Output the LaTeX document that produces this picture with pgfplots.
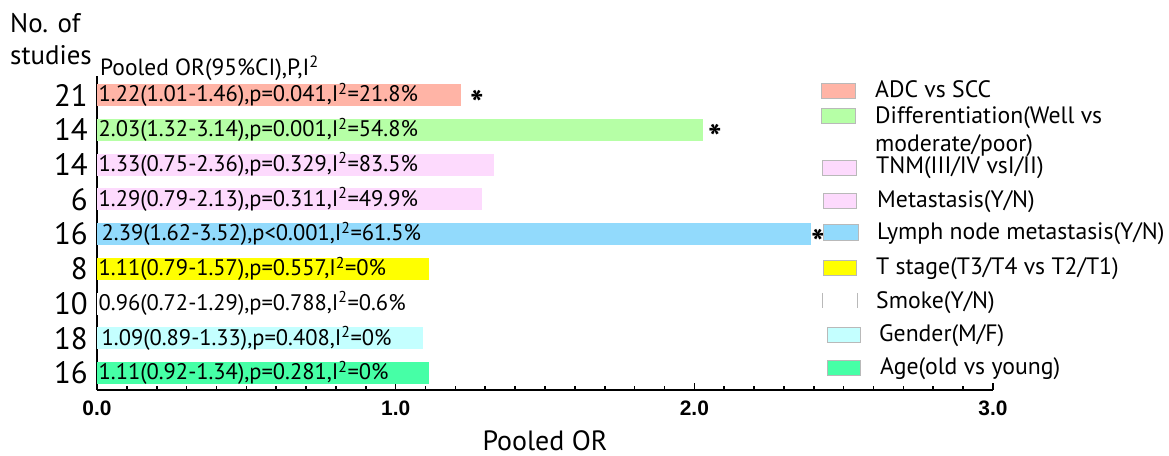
\documentclass[border=0pt]{standalone}
\usepackage{pgfplots}
\pgfplotsset{compat=1.18}
\usepackage{fontspec}
\setmainfont{PT Sans}
\newfontfamily\arialfont{Liberation Sans}
\definecolor{cADC}{RGB}{255,180,166}
\definecolor{cDIF}{RGB}{182,255,166}
\definecolor{cTNM}{RGB}{253,218,253}
\definecolor{cMET}{RGB}{253,218,253}
\definecolor{cLYM}{RGB}{146,218,252}
\definecolor{cTST}{RGB}{255,255,0}
\definecolor{cSMK}{RGB}{255,255,255}
\definecolor{cGEN}{RGB}{196,255,255}
\definecolor{cAGE}{RGB}{70,255,166}
\newcommand{\lab}{\fontsize{22.6}{24}\selectfont}
\newcommand{\leg}{\fontsize{23.8}{26}\selectfont}
\begin{document}
\begin{tikzpicture}[x=1bp,y=1bp]
\useasboundingbox (0,0) rectangle (1169,-456);
\node[anchor=base west, font=\fontsize{27}{30}\selectfont, inner sep=0pt] at (10,-33) {No. of};
\node[anchor=base west, font=\fontsize{27}{30}\selectfont, inner sep=0pt] at (10,-65) {studies};
\node[anchor=base west, font=\fontsize{23.5}{25}\selectfont, inner sep=0pt] at (100,-76) {Pooled OR(95\%CI),P,I\textsuperscript{2}};
\begin{axis}[
  at={(97bp,-390bp)}, anchor=south west,
  scale only axis, width=896bp, height=314bp,
  xmin=0, xmax=3, ymin=-0.489, ymax=8.547,
  xbar, bar shift=0pt, bar width=22bp,
  axis x line*=bottom, axis y line*=left,
  axis line style={-, line width=2.4bp, black},
  xtick={0,1,2,3}, xticklabels={0.0,1.0,2.0,3.0},
  minor x tick num=9,
  tick align=inside,
  major tick length=7bp, minor tick length=4bp,
  every tick/.style={black, line width=1.6bp},
  ytick={0,1,2,3,4,5,6,7,8},
  yticklabels={16,18,10,8,16,6,14,14,21},
  ytick style={draw=none},
  yticklabel style={font=\fontsize{31}{31}\selectfont, inner sep=0pt, xshift=-9bp},
  xticklabel style={font=\arialfont\fontsize{21}{21}\selectfont\bfseries, inner sep=0pt, yshift=-11bp},
  xlabel={Pooled OR},
  xlabel style={font=\fontsize{28}{28}\selectfont, inner sep=0pt, yshift=-14bp},
  clip=false,
]
\addplot[fill=cADC, draw=none] coordinates {(1.22,8)};
\addplot[fill=cDIF, draw=none] coordinates {(2.03,7)};
\addplot[fill=cTNM, draw=none] coordinates {(1.33,6)};
\addplot[fill=cMET, draw=none] coordinates {(1.29,5)};
\addplot[fill=cLYM, draw=none] coordinates {(2.39,4)};
\addplot[fill=cTST, draw=none] coordinates {(1.11,3)};
\addplot[fill=cSMK, draw=none] coordinates {(0.96,2)};
\addplot[fill=cGEN, draw=none] coordinates {(1.09,1)};
\addplot[fill=cAGE, draw=none] coordinates {(1.11,0)};
\node[anchor=west, font=\lab, inner sep=1.5bp] at (axis cs:0,8) {1.22(1.01-1.46),p=0.041,I\textsuperscript{2}=21.8\%};
\node[anchor=west, font=\lab, inner sep=1.5bp] at (axis cs:0,7) {2.03(1.32-3.14),p=0.001,I\textsuperscript{2}=54.8\%};
\node[anchor=west, font=\lab, inner sep=1.5bp] at (axis cs:0,6) {1.33(0.75-2.36),p=0.329,I\textsuperscript{2}=83.5\%};
\node[anchor=west, font=\lab, inner sep=1.5bp] at (axis cs:0,5) {1.29(0.79-2.13),p=0.311,I\textsuperscript{2}=49.9\%};
\node[anchor=west, font=\lab, inner sep=1.5bp] at (axis cs:0.01,4) {2.39(1.62-3.52),p<0.001,I\textsuperscript{2}=61.5\%};
\node[anchor=west, font=\lab, inner sep=1.5bp] at (axis cs:0,3) {1.11(0.79-1.57),p=0.557,I\textsuperscript{2}=0\%};
\node[anchor=west, font=\lab, inner sep=1.5bp] at (axis cs:0,2) {0.96(0.72-1.29),p=0.788,I\textsuperscript{2}=0.6\%};
\node[anchor=west, font=\lab, inner sep=1.5bp] at (axis cs:0.01,1) {1.09(0.89-1.33),p=0.408,I\textsuperscript{2}=0\%};
\node[anchor=west, font=\lab, inner sep=1.5bp] at (axis cs:0,0) {1.11(0.92-1.34),p=0.281,I\textsuperscript{2}=0\%};
\node[font=\fontsize{36}{36}\selectfont\bfseries, inner sep=0pt, yshift=-8bp] at (axis cs:1.272,8) {*};
\node[font=\fontsize{36}{36}\selectfont\bfseries, inner sep=0pt, yshift=-8bp] at (axis cs:2.069,7) {*};
\node[font=\fontsize{36}{36}\selectfont\bfseries, inner sep=0pt, yshift=-8bp] at (axis cs:2.414,4) {*};
\end{axis}
% legend
\begin{scope}[every node/.style={anchor=base west, inner sep=0pt, font=\leg}, sw/.style={draw=gray!55, line width=0.8bp}]
\filldraw[sw, fill=cADC] (821,-83) rectangle (855,-98);
\node at (875,-98) {ADC vs SCC};
\filldraw[sw, fill=cDIF] (821,-108) rectangle (855,-123);
\node at (875,-124) {Differentiation(Well vs};
\node at (875,-152) {moderate/poor)};
\filldraw[sw, fill=cTNM] (822,-160) rectangle (856,-175);
\node at (876,-174) {TNM(III/IV vsI/II)};
\filldraw[sw, fill=cMET] (823,-193) rectangle (856,-208);
\node at (877,-208) {Metastasis(Y/N)};
\filldraw[sw, fill=cLYM] (823,-224) rectangle (858,-240);
\node at (877,-240) {Lymph node metastasis(Y/N)};
\filldraw[sw, fill=cTST] (823,-260) rectangle (856,-275);
\node at (876,-275) {T stage(T3/T4 vs T2/T1)};
\draw[sw] (822,-293) -- (822,-308) (857,-293) -- (857,-308);
\node at (876,-309) {Smoke(Y/N)};
\filldraw[sw, fill=cGEN] (827,-327) rectangle (860,-342);
\node at (879,-342) {Gender(M/F)};
\filldraw[sw, fill=cAGE] (827,-360) rectangle (860,-375);
\node at (880,-375) {Age(old vs young)};
\end{scope}
\end{tikzpicture}
\end{document}
